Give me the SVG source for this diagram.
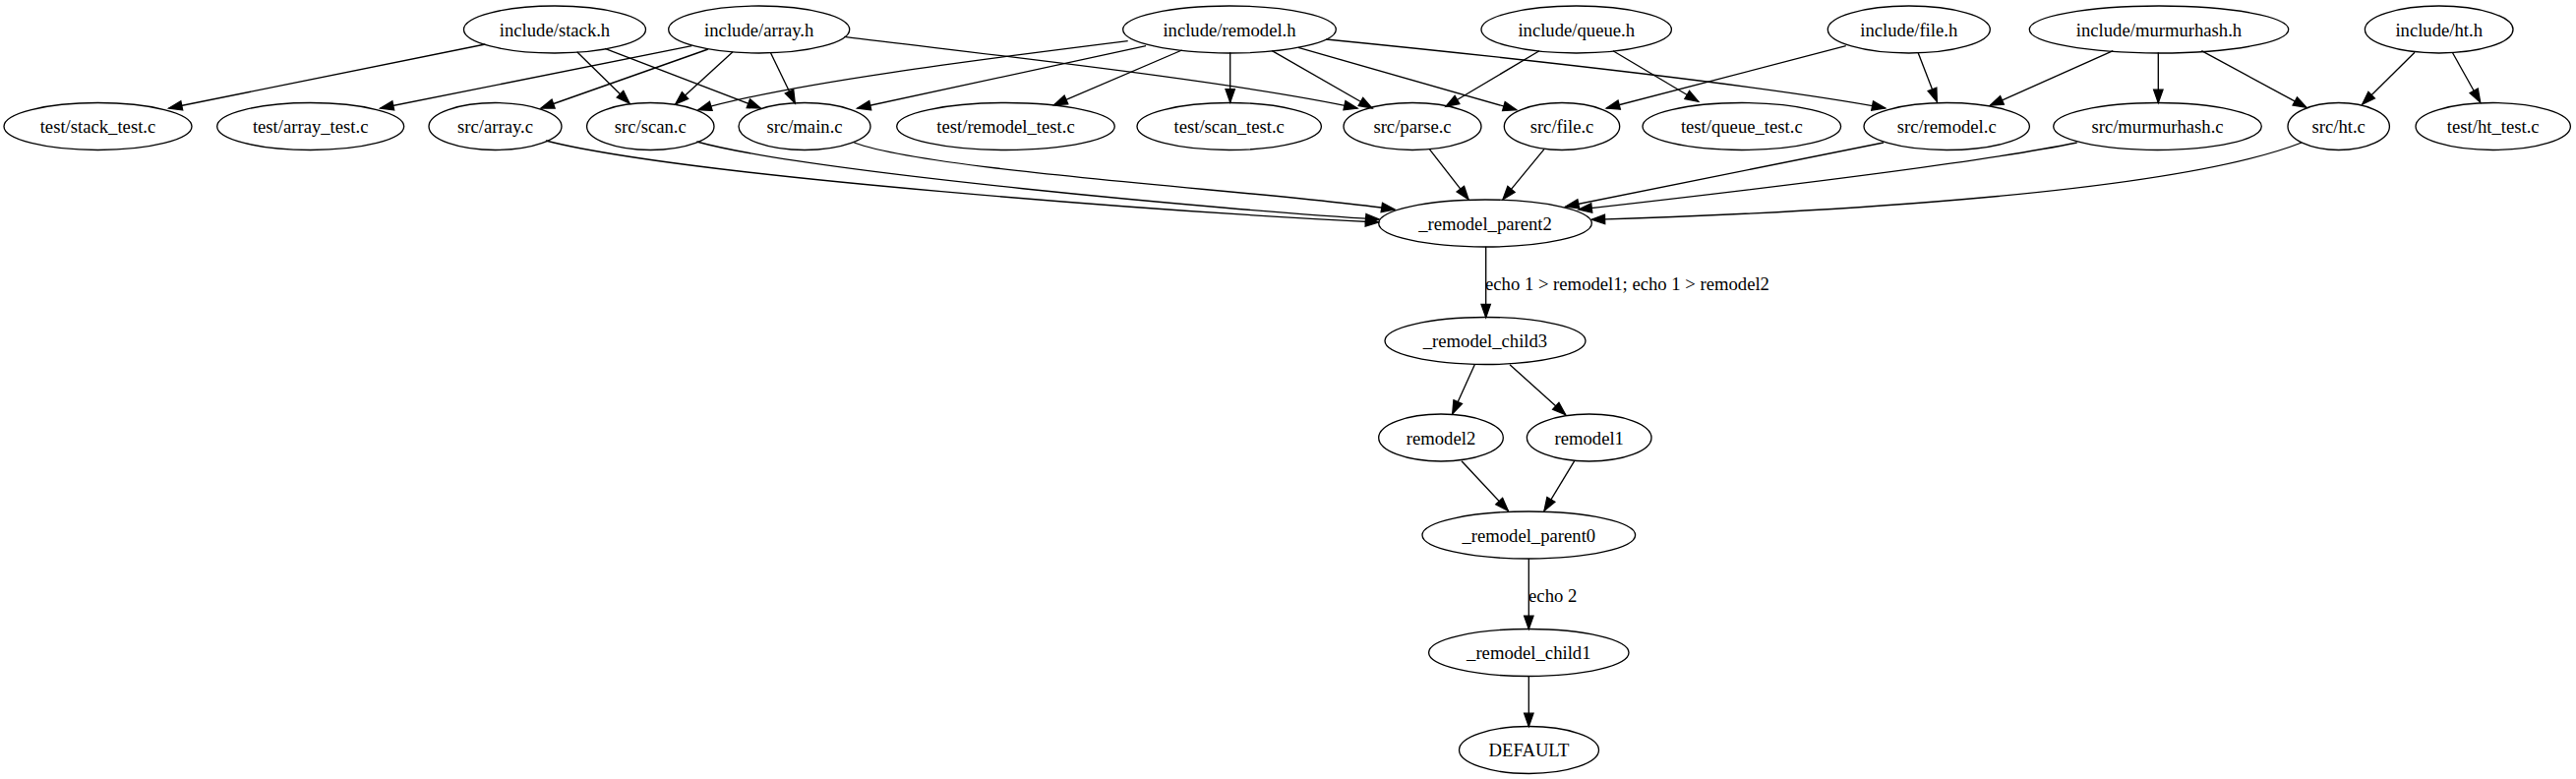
<svg xmlns="http://www.w3.org/2000/svg" width="2619" height="792" viewBox="0 0 2619 792">
<style>
.node ellipse{fill:none;stroke:#000;stroke-width:1.33}
text{font-family:"Liberation Serif","Times New Roman",serif;font-size:18.67px;text-anchor:middle;fill:#000}
.edges path{fill:none;stroke:#000;stroke-width:1.33;marker-end:url(#arr)}
</style>
<defs>
<marker id="arr" markerUnits="userSpaceOnUse" markerWidth="18" markerHeight="14" viewBox="-2 -7 18 14" refX="13.33" refY="0" orient="auto" overflow="visible">
<path d="M0,-4.67 L13.33,0 L0,4.67 z" fill="#000" stroke="#000" stroke-width="1.33"/>
</marker>
</defs>
<rect width="2619" height="792" fill="#fff"/>
<g id="edges" class="edges">
<path d="M493.3,45 L171.7,110"/>
<path d="M586.7,52.7 L640,105"/>
<path d="M615,49.3 L773.3,110"/>
<path d="M703.3,46.7 L386.7,110"/>
<path d="M720,50 L550,110"/>
<path d="M745,52.7 L686.7,106"/>
<path d="M783.3,53.3 L808.3,105"/>
<path d="M858.3,37.3 C1000,55 1250,82 1380,110"/>
<path d="M1146.7,41.7 C1000,60 800,85 710,111.7"/>
<path d="M1165,46.7 L871.7,110"/>
<path d="M1201.7,51 L1071.7,106.7"/>
<path d="M1250.7,53.3 L1250.7,104"/>
<path d="M1293.3,51.7 L1395,110"/>
<path d="M1320,48.3 L1541.7,111.7"/>
<path d="M1348.3,40 C1550,60 1800,88 1916.7,110"/>
<path d="M1565,51.7 L1470,108.3"/>
<path d="M1640,51.7 L1726.7,103.3"/>
<path d="M1876.7,46.7 L1633.3,110"/>
<path d="M1950,53.3 L1969.3,103.3"/>
<path d="M2148.3,51.7 L2023.3,107.3"/>
<path d="M2194.3,53.3 L2194.3,104.5"/>
<path d="M2238.3,51.7 L2345,109.3"/>
<path d="M2455,53.3 L2401.7,106"/>
<path d="M2493.3,53.3 L2521.7,104"/>
<path d="M555,143 C700,180 1200,216 1401.7,226"/>
<path d="M708.3,144 C820,175 1250,214 1402,223"/>
<path d="M868.3,145 C950,175 1300,195 1418,213"/>
<path d="M1453.3,151.7 L1493,202.7"/>
<path d="M1570,151.7 L1528,202.7"/>
<path d="M1915,145 L1591.7,210"/>
<path d="M2111.7,145 C2000,168 1720,200 1605,213"/>
<path d="M2340,145 C2200,200 1800,218 1618.3,223.3"/>
<path d="M1510.7,250.7 L1510.7,322.7"/>
<path d="M1499.3,370.7 L1476.7,420.7"/>
<path d="M1535,370.7 L1591.7,421.7"/>
<path d="M1486,468.7 L1533.3,519.3"/>
<path d="M1600.7,468.7 L1570,519.3"/>
<path d="M1554.3,568 L1554.3,639.5"/>
<path d="M1554.3,687.5 L1554.3,738.5"/>
<text x="1654.5" y="295">echo 1 &gt; remodel1; echo 1 &gt; remodel2</text>
<text x="1578.7" y="611.5">echo 2</text>
</g>
<g id="include_stack_h" class="node"><ellipse cx="564" cy="30" rx="92.5" ry="24"/><text x="564" y="36.5">include/stack.h</text></g>
<g id="include_array_h" class="node"><ellipse cx="771.7" cy="30" rx="92" ry="24"/><text x="771.7" y="36.5">include/array.h</text></g>
<g id="include_remodel_h" class="node"><ellipse cx="1250" cy="30" rx="108.3" ry="24"/><text x="1250" y="36.5">include/remodel.h</text></g>
<g id="include_queue_h" class="node"><ellipse cx="1602.7" cy="30" rx="96.7" ry="24"/><text x="1602.7" y="36.5">include/queue.h</text></g>
<g id="include_file_h" class="node"><ellipse cx="1940.8" cy="30" rx="82.5" ry="24"/><text x="1940.8" y="36.5">include/file.h</text></g>
<g id="include_murmurhash_h" class="node"><ellipse cx="2195" cy="30" rx="131.7" ry="24"/><text x="2195" y="36.5">include/murmurhash.h</text></g>
<g id="include_ht_h" class="node"><ellipse cx="2479.7" cy="30" rx="75.3" ry="24"/><text x="2479.7" y="36.5">include/ht.h</text></g>
<g id="test_stack_test_c" class="node"><ellipse cx="99.5" cy="128.5" rx="95.5" ry="24"/><text x="99.5" y="135">test/stack_test.c</text></g>
<g id="test_array_test_c" class="node"><ellipse cx="315.7" cy="128.5" rx="95" ry="24"/><text x="315.7" y="135">test/array_test.c</text></g>
<g id="src_array_c" class="node"><ellipse cx="503.5" cy="128.5" rx="67.5" ry="24"/><text x="503.5" y="135">src/array.c</text></g>
<g id="src_scan_c" class="node"><ellipse cx="661.3" cy="128.5" rx="64.7" ry="24"/><text x="661.3" y="135">src/scan.c</text></g>
<g id="src_main_c" class="node"><ellipse cx="818" cy="128.5" rx="67" ry="24"/><text x="818" y="135">src/main.c</text></g>
<g id="test_remodel_test_c" class="node"><ellipse cx="1022.5" cy="128.5" rx="110.8" ry="24"/><text x="1022.5" y="135">test/remodel_test.c</text></g>
<g id="test_scan_test_c" class="node"><ellipse cx="1249.7" cy="128.5" rx="93.7" ry="24"/><text x="1249.7" y="135">test/scan_test.c</text></g>
<g id="src_parse_c" class="node"><ellipse cx="1436" cy="128.5" rx="70" ry="24"/><text x="1436" y="135">src/parse.c</text></g>
<g id="src_file_c" class="node"><ellipse cx="1588" cy="128.5" rx="58.7" ry="24"/><text x="1588" y="135">src/file.c</text></g>
<g id="test_queue_test_c" class="node"><ellipse cx="1770.8" cy="128.5" rx="100.8" ry="24"/><text x="1770.8" y="135">test/queue_test.c</text></g>
<g id="src_remodel_c" class="node"><ellipse cx="1979.2" cy="128.5" rx="84.2" ry="24"/><text x="1979.2" y="135">src/remodel.c</text></g>
<g id="src_murmurhash_c" class="node"><ellipse cx="2193.5" cy="128.5" rx="105.8" ry="24"/><text x="2193.5" y="135">src/murmurhash.c</text></g>
<g id="src_ht_c" class="node"><ellipse cx="2377.7" cy="128.5" rx="51.7" ry="24"/><text x="2377.7" y="135">src/ht.c</text></g>
<g id="test_ht_test_c" class="node"><ellipse cx="2534.7" cy="128.5" rx="78.7" ry="24"/><text x="2534.7" y="135">test/ht_test.c</text></g>
<g id="remodel_parent2" class="node"><ellipse cx="1510" cy="227" rx="108.3" ry="24"/><text x="1510" y="233.5">_remodel_parent2</text></g>
<g id="remodel_child3" class="node"><ellipse cx="1510" cy="346.5" rx="102" ry="24"/><text x="1510" y="353">_remodel_child3</text></g>
<g id="remodel2" class="node"><ellipse cx="1465" cy="445" rx="63.3" ry="24"/><text x="1465" y="451.5">remodel2</text></g>
<g id="remodel1" class="node"><ellipse cx="1615.7" cy="445" rx="63.3" ry="24"/><text x="1615.7" y="451.5">remodel1</text></g>
<g id="remodel_parent0" class="node"><ellipse cx="1554.3" cy="544" rx="108.3" ry="24"/><text x="1554.3" y="550.5">_remodel_parent0</text></g>
<g id="remodel_child1" class="node"><ellipse cx="1554.3" cy="663.5" rx="101.7" ry="24"/><text x="1554.3" y="670">_remodel_child1</text></g>
<g id="DEFAULT" class="node"><ellipse cx="1554.5" cy="762.5" rx="71" ry="24"/><text x="1554.5" y="769">DEFAULT</text></g>
</svg>
